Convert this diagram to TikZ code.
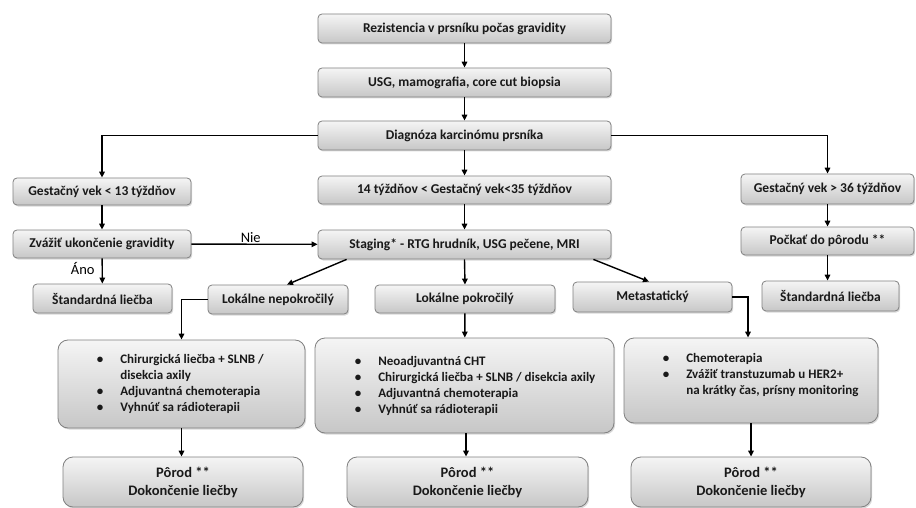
\documentclass[tikz,border=0pt]{standalone}
\usepackage{fontspec}
\setmainfont{Carlito}
\usetikzlibrary{arrows.meta,shadows,calc}
\begin{document}
\begin{tikzpicture}[x=1pt,y=-1pt,
  box/.style={draw=black!50, line width=0.8pt, rounded corners=4pt,
    top color=white!96!black, bottom color=white!78!black,
    drop shadow={shadow xshift=1.2pt, shadow yshift=-1.5pt, opacity=0.3},
    font=\bfseries\fontsize{13.5}{15}\selectfont, text=black!90, inner sep=0pt},
  bigbox/.style={box, rounded corners=10pt},
  pbox/.style={bigbox, font=\bfseries\fontsize{14.5}{18}\selectfont, align=center},
  btxt/.style={font=\bfseries\fontsize{13}{16}\selectfont, text=black!90, align=left, inner sep=0pt},
  conn/.style={line width=1.4pt, -{Triangle[length=6pt,width=5.5pt]}},
  lab/.style={font=\fontsize{14.5}{16}\selectfont, inner sep=1pt}]
\useasboundingbox (0,0) rectangle (916,508);
\newcommand{\bx}[6]{\node[#1, minimum width=#4, minimum height=#5] (#2) at (#3) {#6};}
\bx{box}{rez}{464.5,28.5}{293pt}{29pt}{Rezistencia v prsníku počas gravidity}
\bx{box}{usg}{464.5,82.5}{293pt}{29pt}{USG, mamografia, core cut biopsia}
\bx{box}{diag}{464.5,135.5}{293pt}{29pt}{Diagnóza karcinómu prsníka}
\bx{box}{g13}{102,191.5}{178pt}{27pt}{Gestačný vek < 13 týždňov}
\bx{box}{g14}{464.5,190}{293pt}{28pt}{14 týždňov < Gestačný vek<35 týždňov}
\bx{box}{g36}{827.5,189}{173pt}{30pt}{Gestačný vek > 36 týždňov}
\bx{box}{zvaz}{102,244}{178pt}{28pt}{Zvážiť ukončenie gravidity}
\bx{box}{stag}{464.5,244.5}{293pt}{29pt}{Staging* - RTG hrudník, USG pečene, MRI}
\bx{box}{pock}{827.5,241}{173pt}{28pt}{Počkať do pôrodu **}
\bx{box}{std1}{102.5,298.5}{139pt}{29pt}{Štandardná liečba}
\bx{box}{lnep}{278,299.5}{140pt}{29pt}{Lokálne nepokročilý}
\bx{box}{lpok}{465,299}{180pt}{28pt}{Lokálne pokročilý}
\bx{box}{meta}{652.5,297}{159pt}{30pt}{Metastatický}
\bx{box}{std2}{830.5,296}{137pt}{30pt}{Štandardná liečba}
\bx{bigbox}{big1}{181.5,384}{247pt}{88pt}{}
\bx{bigbox}{big2}{464.5,385.5}{299pt}{95pt}{}
\bx{bigbox}{big3}{751,380.5}{254pt}{85pt}{}
\bx{pbox}{p1}{183,482}{240pt}{50pt}{Pôrod **\\Dokončenie liečby}
\bx{pbox}{p2}{467.5,482}{241pt}{50pt}{Pôrod **\\Dokončenie liečby}
\bx{pbox}{p3}{751,482}{240pt}{50pt}{Pôrod **\\Dokončenie liečby}
\node[btxt, anchor=west] (t1) at ($(big1.west)+(39,0)$) {%
\begin{tabular}{@{}c@{\hspace{17pt}}l@{}}
•&Chirurgická liečba + SLNB /\\&disekcia axily\\•&Adjuvantná chemoterapia\\•&Vyhnúť sa rádioterapii
\end{tabular}};
\node[btxt, anchor=west] (t2) at ($(big2.west)+(40,0.5)$) {%
\begin{tabular}{@{}c@{\hspace{17pt}}l@{}}
•&Neoadjuvantná CHT\\•&Chirurgická liečba + SLNB / disekcia axily\\•&Adjuvantná chemoterapia\\•&Vyhnúť sa rádioterapii
\end{tabular}};
\node[btxt, anchor=west] (t3) at ($(big3.west)+(39,-5.5)$) {%
\begin{tabular}{@{}c@{\hspace{17pt}}l@{}}
•&Chemoterapia\\•&Zvážiť transtuzumab u HER2+\\&na krátky čas, prísny monitoring
\end{tabular}};
% connectors
\draw[conn] (rez) -- (usg);
\draw[conn] (usg) -- (diag);
\draw[conn] (diag) -- (g14);
\draw[conn] (diag.west) -| (g13.north);
\draw[conn] (diag.east) -| (g36.north);
\draw[conn] (g13) -- (zvaz);
\draw[conn] (g14) -- (stag);
\draw[conn] (g36) -- (pock);
\draw[conn] (pock.south) -- (pock.south |- std2.north);
\draw[conn] (zvaz) -- node[lab, above, pos=0.47] {Nie} (stag);
\draw[conn] (zvaz) -- node[lab, left, xshift=-6pt, yshift=3pt] {Áno} (std1);
\draw[conn] ($(stag.south west)+(29,0)$) -- ($(lnep.north)+(9,0)$);
\draw[conn] (stag.south) -- (lpok.north);
\draw[conn] ($(stag.south east)+(-18,0)$) -- ($(meta.north)+(-3.5,0)$);
\draw[conn] (lnep.west) -| (big1.north);
\draw[conn] (lpok) -- (big2);
\draw[conn] (meta.east) -| ($(big3.north)+(-3,0)$);
\draw[conn] (big1.south) -- (big1.south |- p1.north);
\draw[conn] ($(big2.south)+(1.5,0)$) -- ($(big2.south |- p2.north)+(1.5,0)$);
\draw[conn] (big3) -- (p3);
\end{tikzpicture}
\end{document}
